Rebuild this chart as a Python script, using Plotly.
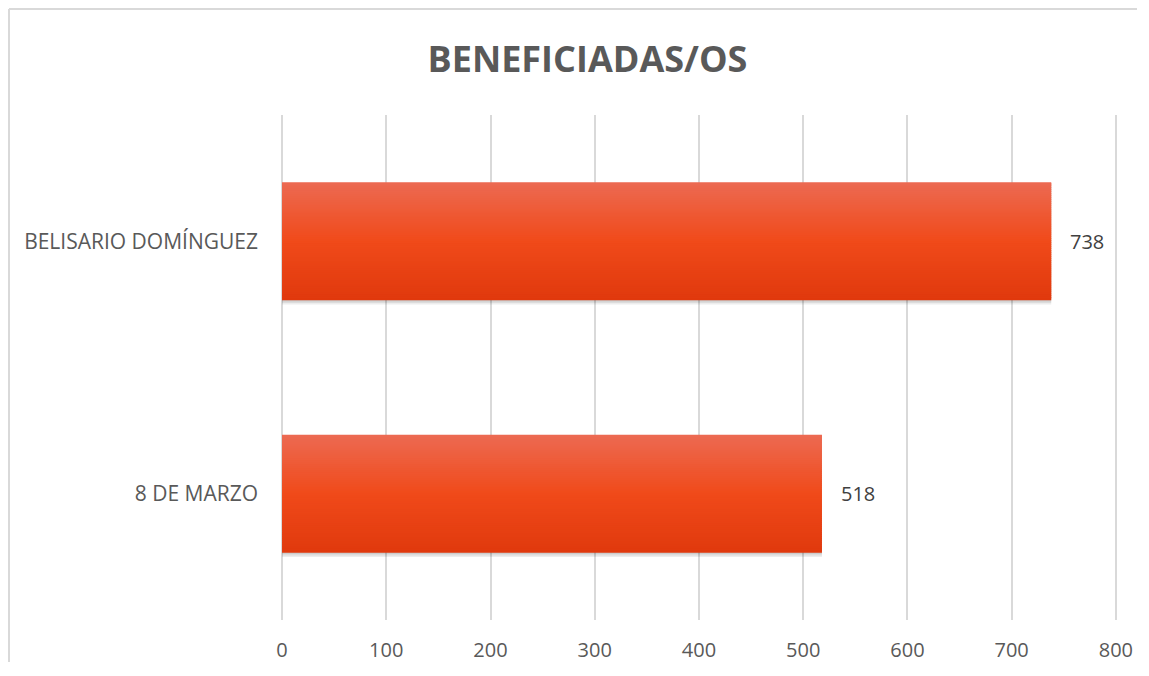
import plotly.graph_objects as go

# data (bottom to top on the y axis)
categories = ["8 DE MARZO", "BELISARIO DOMÍNGUEZ"]
values = [518, 738]
x_ticks = [0, 100, 200, 300, 400, 500, 600, 700, 800]

GRID = "#D9D9D9"
TEXT = "#595959"
BAR_W = 0.467
N_SLICES = 60
# vertical gradient stops: bottom, middle, top
STOPS = [(0.0, (224, 57, 13)), (0.5, (240, 74, 26)), (1.0, (236, 106, 82))]


def grad_color(t):
    for (t0, c0), (t1, c1) in zip(STOPS, STOPS[1:]):
        if t <= t1:
            f = (t - t0) / (t1 - t0)
            r, g, b = (round(a + (bb - a) * f) for a, bb in zip(c0, c1))
            return f"rgb({r},{g},{b})"
    return "rgb(%d,%d,%d)" % STOPS[-1][1]


fig = go.Figure()

# soft drop shadow under the bars
for k in (3, 2, 1):
    fig.add_trace(
        go.Bar(
            x=values, y=categories, orientation="h", base=0,
            width=BAR_W, offset=-BAR_W / 2 - k * 0.0055,
            marker=dict(color="rgba(0,0,0,0.07)", line=dict(width=0)),
            hoverinfo="skip",
        )
    )

# each bar is drawn as thin horizontal slices to get the top-to-bottom gradient
step = BAR_W / N_SLICES
for i in range(N_SLICES):
    w = step * 1.6 if i < N_SLICES - 1 else step
    fig.add_trace(
        go.Bar(
            x=values,
            y=categories,
            orientation="h",
            base=0,
            width=w,
            offset=-BAR_W / 2 + i * step,
            marker=dict(color=grad_color((i + 0.5) / N_SLICES), line=dict(width=0)),
            hoverinfo="x+y" if i == 0 else "skip",
        )
    )

# value labels to the right of each bar
for v, c in zip(values, categories):
    fig.add_annotation(
        x=v, y=c, text=str(v), showarrow=False,
        xanchor="left", xshift=17,
        font=dict(family="Open Sans", size=20, color="#404040"),
    )

# outer chart border: only top and left edges are inside the page
border = dict(color=GRID, width=2)
fig.add_shape(type="line", xref="paper", yref="paper",
              x0=-0.3246, x1=1.2, y0=1.2099, y1=1.2099, line=border, layer="below")
fig.add_shape(type="line", xref="paper", yref="paper",
              x0=-0.3246, x1=-0.3246, y0=-0.3, y1=1.2099, line=border, layer="below")

fig.update_layout(
    width=1129,
    height=654,
    margin=dict(l=273, r=18, t=107, b=42),
    paper_bgcolor="white",
    plot_bgcolor="white",
    showlegend=False,
    barmode="overlay",
    title=dict(
        text="<b>BENEFICIADAS/OS</b>",
        x=579.5 / 1129, xanchor="center", y=1 - 51 / 654, yanchor="middle",
        font=dict(family="Open Sans", size=36, color=TEXT),
    ),
    xaxis=dict(
        range=[-1, 803],
        tickvals=x_ticks,
        showgrid=True, gridcolor=GRID, gridwidth=2,
        zeroline=True, zerolinecolor=GRID, zerolinewidth=2,
        showline=False,
        automargin=False,
        ticklabelstandoff=16,
        tickfont=dict(family="Open Sans", size=20, color=TEXT),
        fixedrange=True,
    ),
    yaxis=dict(
        showgrid=False, zeroline=False, showline=False,
        automargin=False,
        ticklabelstandoff=22,
        tickfont=dict(family="Open Sans", size=21, color=TEXT),
        fixedrange=True,
    ),
)

fig.write_html("out.html")
